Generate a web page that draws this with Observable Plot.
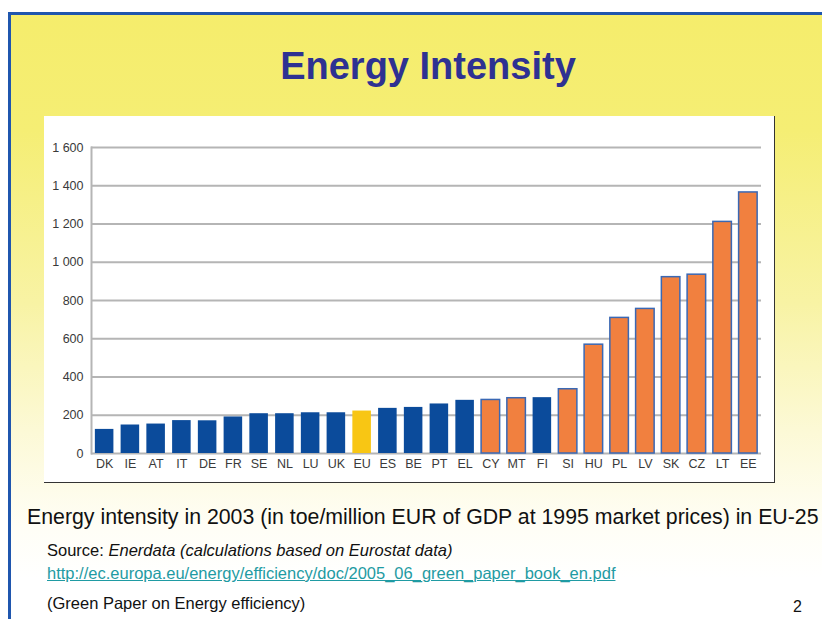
<!DOCTYPE html>
<html>
<head>
<meta charset="utf-8">
<script src="https://cdn.jsdelivr.net/npm/d3@7"></script>
<script src="https://cdn.jsdelivr.net/npm/@observablehq/plot@0.6"></script>
<style>
  html, body { margin: 0; padding: 0; background: #ffffff; }
  #page { position: relative; width: 822px; height: 619px; overflow: hidden; background: #ffffff;
          font-family: "Liberation Sans", Arial, sans-serif; }
  #slide { position: absolute; left: 8px; top: 12px; width: 840px; height: 640px;
           border-left: 3px solid #1f56ae; border-top: 3px solid #1f56ae;
           background: linear-gradient(to bottom, #f5ed6c 0%, #f5ee74 18%, #f8f3a4 45%, #fcf9d6 65%, #fffef6 80%, #ffffff 88%); }
  #title { position: absolute; left: 428px; top: 47px; transform: translateX(-50%);
           font-size: 38px; line-height: 1; font-weight: bold; color: #2e3192; white-space: nowrap; }
  #chart { position: absolute; left: 44px; top: 116px; width: 730px; height: 366px; background: #ffffff;
           border-right: 1.5px solid #333; border-bottom: 1.5px solid #333; }
  #chart svg { display: block; }
  .txt { position: absolute; white-space: nowrap; line-height: 1; color: #111; }
  #caption { left: 27px; top: 507px; font-size: 21.3px; }
  #source { left: 47px; top: 542px; font-size: 16.5px; }
  #link { left: 47px; top: 565px; font-size: 16.5px; color: #1f9ba3; text-decoration: underline; }
  #green { left: 47px; top: 595px; font-size: 16.5px; }
  #pagenum { left: 793px; top: 599px; font-size: 16px; }
</style>
</head>
<body>
<div id="page">
  <div id="slide"></div>
  <div id="title">Energy Intensity</div>
  <div id="chart"></div>
  <div class="txt" id="caption">Energy intensity in 2003 (in toe/million EUR of GDP at 1995 market prices) in EU-25</div>
  <div class="txt" id="source">Source: <i>Enerdata (calculations based on Eurostat data)</i></div>
  <div class="txt" id="link">http://ec.europa.eu/energy/efficiency/doc/2005_06_green_paper_book_en.pdf</div>
  <div class="txt" id="green">(Green Paper on Energy efficiency)</div>
  <div class="txt" id="pagenum">2</div>
</div>
<script>
const countries = ["DK","IE","AT","IT","DE","FR","SE","NL","LU","UK","EU","ES","BE","PT","EL","CY","MT","FI","SI","HU","PL","LV","SK","CZ","LT","EE"];
const values = [126, 149, 154, 172, 171, 191, 208, 208, 213, 213, 222, 236, 241, 259, 278, 280, 289, 292, 336, 569, 709, 756, 922, 935, 1211, 1365];
const groups = ["EU-15","EU-15","EU-15","EU-15","EU-15","EU-15","EU-15","EU-15","EU-15","EU-15","EU-25","EU-15","EU-15","EU-15","EU-15","NMS","NMS","EU-15","NMS","NMS","NMS","NMS","NMS","NMS","NMS","NMS"];
const groupNames = ["EU-15","EU-25","NMS"];
const groupColors = ["#0b4b9b","#f8c614","#f1803f"];
const yTicks = [0, 200, 400, 600, 800, 1000, 1200, 1400, 1600];

const data = countries.map((c, i) => ({country: c, value: values[i], group: groups[i]}));
const fmt = d => d >= 1000 ? `${Math.floor(d / 1000)} ${String(d % 1000).padStart(3, "0")}` : String(d);

const chart = Plot.plot({
  width: 730,
  height: 366,
  marginLeft: 47,
  marginRight: 13,
  marginTop: 31,
  marginBottom: 29,
  style: {background: "white", fontFamily: "'Liberation Sans', Arial, sans-serif", fontSize: "12px", color: "#3a3a3a"},
  x: {domain: countries, paddingInner: 0.28, paddingOuter: 0.15, round: false, label: null},
  y: {domain: [0, 1600], label: null},
  color: {domain: groupNames, range: groupColors},
  marks: [
    Plot.ruleY(yTicks, {stroke: "#b5b5b5", strokeWidth: 2}),
    Plot.frame({anchor: "left", stroke: "#b5b5b5", strokeWidth: 2}),
    Plot.barY(data, {x: "country", y: "value", fill: "group"}),
    Plot.barY(data, {filter: d => d.group === "NMS", x: "country", y: "value", fill: "none", stroke: "#3a68b4", strokeWidth: 1.5}),
    Plot.axisX({tickSize: 0, tickPadding: 6, label: null, fontSize: 12.5}),
    Plot.axisY({ticks: yTicks, tickSize: 0, tickPadding: 8, tickFormat: fmt, label: null, fontSize: 12.5})
  ]
});
document.getElementById("chart").appendChild(chart);
</script>
</body>
</html>
